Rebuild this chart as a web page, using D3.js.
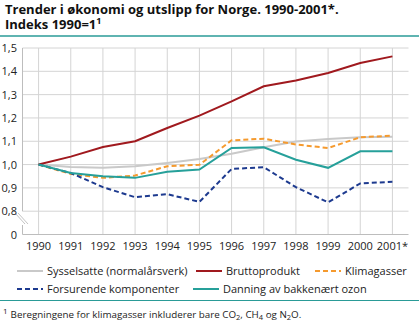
<!DOCTYPE html>
<html>
<head>
<meta charset="utf-8">
<script src="https://cdn.jsdelivr.net/npm/d3@7"></script>
<style>
  html, body { margin: 0; padding: 0; background: #fff; }
  svg { display: block; font-family: "Open Sans", "DejaVu Sans", sans-serif; }
</style>
</head>
<body>
<svg id="chart" width="419" height="324"></svg>
<script>
// Index values, 1990 = 1
const years = ["1990","1991","1992","1993","1994","1995","1996","1997","1998","1999","2000","2001*"];
const sysselsatte   = [1.000, 0.990, 0.986, 0.993, 1.007, 1.024, 1.046, 1.074, 1.099, 1.110, 1.117, 1.119];
const bruttoprodukt = [1.000, 1.034, 1.075, 1.100, 1.157, 1.210, 1.271, 1.336, 1.361, 1.393, 1.436, 1.464];
const klimagasser   = [1.000, 0.960, 0.943, 0.953, 0.993, 0.999, 1.104, 1.111, 1.086, 1.071, 1.117, 1.124];
const forsurende    = [1.000, 0.964, 0.903, 0.860, 0.873, 0.840, 0.981, 0.989, 0.903, 0.838, 0.919, 0.926];
const ozon          = [1.000, 0.964, 0.950, 0.943, 0.969, 0.979, 1.071, 1.074, 1.021, 0.986, 1.057, 1.057];
const yTicks = [0, 0.8, 0.9, 1.0, 1.1, 1.2, 1.3, 1.4, 1.5];

const series = [
  { name: "Sysselsatte (normalårsverk)", values: sysselsatte,   color: "#c9c9c9", dash: null },
  { name: "Bruttoprodukt",               values: bruttoprodukt, color: "#a0191e", dash: null },
  { name: "Klimagasser",                 values: klimagasser,   color: "#f59a2e", dash: "5,3" },
  { name: "Forsurende komponenter",      values: forsurende,    color: "#1d3a8f", dash: "5,3" },
  { name: "Danning av bakkenært ozon",   values: ozon,          color: "#26a09a", dash: null }
];

const svg = d3.select("#chart");
const plotL = 22.5, plotR = 408.5, plotT = 48, plotB = 234.5;

const x = d3.scaleBand().domain(years).range([plotL, plotR]).padding(0);
const xc = d => x(d) + x.bandwidth() / 2;
// broken axis: 0 sits one step below 0,8
const y = d3.scaleLinear().domain([0, 0.8, 1.5]).range([plotB, 211.2, plotT]);
const fmt = v => v === 0 ? "0" : d3.format(".1f")(v).replace(".", ",");

// Title
const title = svg.append("g").attr("font-weight", "bold").attr("font-size", 13).attr("fill", "#111");
title.append("text").attr("x", 5).attr("y", 14).text("Trender i økonomi og utslipp for Norge. 1990-2001*.");
const t2 = title.append("text").attr("x", 5).attr("y", 29);
t2.append("tspan").text("Indeks 1990=1");
t2.append("tspan").attr("dy", -5).attr("font-size", 9).text("1");
svg.append("line").attr("x1", 0).attr("x2", 419).attr("y1", 36).attr("y2", 36)
  .attr("stroke", "#2a9b97").attr("stroke-width", 1.5);

// Grid
const grid = svg.append("g").attr("stroke", "#d4d4d4").attr("stroke-width", 1);
grid.selectAll("line.h").data(yTicks.filter(v => v > 0)).join("line")
  .attr("x1", plotL).attr("x2", plotR).attr("y1", d => y(d)).attr("y2", d => y(d));
grid.selectAll("line.v").data(years).join("line")
  .attr("x1", d => xc(d)).attr("x2", d => xc(d)).attr("y1", plotT).attr("y2", plotB);

// Axes
const axis = svg.append("g").attr("stroke", "#bdbdbd").attr("stroke-width", 1);
axis.append("line").attr("x1", plotL).attr("x2", plotR).attr("y1", plotB).attr("y2", plotB);
axis.append("line").attr("x1", plotL).attr("x2", plotL).attr("y1", plotT).attr("y2", y(0.8));
axis.append("line").attr("x1", plotL).attr("x2", plotL).attr("y1", 225).attr("y2", plotB);
// break marks
[0, 3].forEach(o => {
  axis.append("line").attr("x1", 15 + o).attr("y1", 213).attr("x2", 25 + o).attr("y2", 224)
    .attr("stroke", "#c4c4c4");
});

// Y tick labels
svg.append("g").attr("font-size", 11).attr("fill", "#222").attr("text-anchor", "end")
  .selectAll("text").data(yTicks).join("text")
  .attr("x", 17).attr("y", d => y(d) + 4).text(fmt);

// X tick labels
svg.append("g").attr("font-size", 11).attr("fill", "#222").attr("text-anchor", "middle")
  .selectAll("text").data(years).join("text")
  .attr("x", d => xc(d)).attr("y", 250).text(d => d);

// Lines
const line = d3.line().x((d, i) => xc(years[i])).y(d => y(d));
svg.append("g").selectAll("path").data(series).join("path")
  .attr("d", s => line(s.values))
  .attr("fill", "none")
  .attr("stroke", s => s.color)
  .attr("stroke-width", 2)
  .attr("stroke-dasharray", s => s.dash);

// Legend
const legendPos = [
  { x: 17, y: 271 }, { x: 196, y: 271 }, { x: 315, y: 271 },
  { x: 17, y: 289 }, { x: 193, y: 289 }
];
const lg = svg.append("g").attr("font-size", 11).attr("fill", "#222");
series.forEach((s, i) => {
  const p = legendPos[i];
  lg.append("line").attr("x1", p.x).attr("x2", p.x + 26).attr("y1", p.y).attr("y2", p.y)
    .attr("stroke", s.color).attr("stroke-width", 2).attr("stroke-dasharray", s.dash);
  lg.append("text").attr("x", p.x + 30).attr("y", p.y + 4).text(s.name);
});

svg.append("line").attr("x1", 0).attr("x2", 419).attr("y1", 300.5).attr("y2", 300.5)
  .attr("stroke", "#2a9b97").attr("stroke-width", 1.2);

// Footnote
const fn = svg.append("text").attr("x", 3).attr("y", 318).attr("font-size", 9.8).attr("fill", "#222");
fn.append("tspan").attr("dy", -4).attr("font-size", 8).text("1");
fn.append("tspan").attr("dx", 3).attr("dy", 4).text("Beregningene for klimagasser inkluderer bare CO");
fn.append("tspan").attr("dy", 2).attr("font-size", 7.5).text("2");
fn.append("tspan").attr("dy", -2).text(", CH");
fn.append("tspan").attr("dy", 2).attr("font-size", 7.5).text("4");
fn.append("tspan").attr("dy", -2).text(" og N");
fn.append("tspan").attr("dy", 2).attr("font-size", 7.5).text("2");
fn.append("tspan").attr("dy", -2).text("O.");
</script>
</body>
</html>
